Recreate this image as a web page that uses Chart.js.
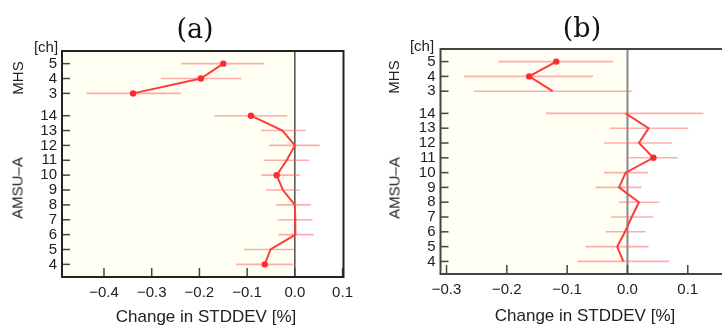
<!DOCTYPE html>
<html>
<head>
<meta charset="utf-8">
<script src="https://cdn.jsdelivr.net/npm/chart.js@4.4.1/dist/chart.umd.min.js"></script>
<style>
  body { margin: 0; width: 722px; height: 325px; overflow: hidden; position: relative; background: #fff;
         font-family: "Liberation Sans", Arial, sans-serif; color: #222; }
  canvas { position: absolute; top: 0; }
  .lbl { position: absolute; white-space: nowrap; transform: translate(-50%, -50%); }
  .ttl { font-family: "DejaVu Serif", serif; font-size: 27px; color: #111; }
  .ax { font-size: 17px; }
  .side { font-size: 15px; }
  .rot { transform: translate(-50%, -50%) rotate(-90deg); }
</style>
</head>
<body>
<canvas id="chartA" width="360" height="325" style="left:0"></canvas>
<canvas id="chartB" width="400" height="325" style="left:360px"></canvas>

<script>
// channel rows: AMSU-A 4..14 on the bottom, MHS 3..5 stacked above with a small gap
const amsuCh = [4, 5, 6, 7, 8, 9, 10, 11, 12, 13, 14];
const mhsCh = [3, 4, 5];
const amsuPos = [4, 5, 6, 7, 8, 9, 10, 11, 12, 13, 14];
const mhsPos = [15.5, 16.5, 17.5];
const yTickPos = amsuPos.concat(mhsPos);
const yTickLabels = amsuCh.concat(mhsCh).map(String);

const xTicksA = [-0.4, -0.3, -0.2, -0.1, 0.0, 0.1];
const xTicksB = [-0.3, -0.2, -0.1, 0.0, 0.1];

// (a) change in STDDEV, with error bar ends
const amsuA = [-0.063, -0.051, 0.001, 0.001, 0.0, -0.025, -0.038, -0.017, 0.0, -0.026, -0.092];
const amsuALo = [-0.123, -0.107, -0.034, -0.036, -0.039, -0.061, -0.070, -0.065, -0.054, -0.071, -0.169];
const amsuAHi = [-0.004, -0.002, 0.040, 0.037, 0.034, 0.010, 0.010, 0.030, 0.052, 0.023, -0.016];
const amsuADot = [1, 0, 0, 0, 0, 0, 1, 0, 0, 0, 1];
const mhsA = [-0.339, -0.197, -0.150];
const mhsALo = [-0.437, -0.281, -0.238];
const mhsAHi = [-0.239, -0.112, -0.064];
const mhsADot = [1, 1, 1];

// (b)
const amsuB = [-0.007, -0.017, -0.004, 0.007, 0.019, -0.014, -0.003, 0.043, 0.019, 0.035, -0.003];
const amsuBLo = [-0.083, -0.069, -0.036, -0.027, -0.014, -0.053, -0.039, 0.002, -0.039, -0.029, -0.135];
const amsuBHi = [0.069, 0.035, 0.030, 0.043, 0.053, 0.023, 0.034, 0.083, 0.074, 0.101, 0.126];
const amsuBDot = [0, 0, 0, 0, 0, 0, 0, 1, 0, 0, 0];
const mhsB = [-0.124, -0.163, -0.118];
const mhsBLo = [-0.255, -0.271, -0.214];
const mhsBHi = [0.008, -0.057, -0.024];
const mhsBDot = [0, 1, 1];


function fmtX(v) {
    let s = Math.abs(v).toFixed(1);
    return v < -1e-9 ? "\u2212" + s : s;
}

// background, zero line, error bars, box and inward ticks
const panelDeco = {
    id: "panelDeco",
    beforeDatasetsDraw(chart, args, opts) {
        const ctx = chart.ctx;
        const a = chart.chartArea;
        const x = chart.scales.x, y = chart.scales.y;
        const x0 = x.getPixelForValue(0);
        ctx.save();
        ctx.fillStyle = "#fffff3";
        ctx.fillRect(a.left, a.top, x0 - a.left, a.bottom - a.top);

        ctx.strokeStyle = opts.zeroColor;
        ctx.lineWidth = opts.zeroWidth;
        ctx.beginPath();
        ctx.moveTo(x0, a.top);
        ctx.lineTo(x0, a.bottom);
        ctx.stroke();

        ctx.strokeStyle = "rgba(255,105,105,0.55)";
        ctx.lineWidth = 1.6;
        chart.data.datasets.forEach(ds => {
            ds.data.forEach((p, i) => {
                const py = y.getPixelForValue(p.y);
                ctx.beginPath();
                ctx.moveTo(x.getPixelForValue(ds.lo[i]), py);
                ctx.lineTo(x.getPixelForValue(ds.hi[i]), py);
                ctx.stroke();
            });
        });
        ctx.restore();
    },
    afterDraw(chart, args, opts) {
        const ctx = chart.ctx;
        const a = chart.chartArea;
        const x = chart.scales.x, y = chart.scales.y;
        ctx.save();
        ctx.strokeStyle = opts.tickColor;
        ctx.lineWidth = 1.5;
        y.ticks.forEach(t => {
            const py = y.getPixelForValue(t.value);
            ctx.beginPath();
            ctx.moveTo(a.left, py);
            ctx.lineTo(a.left + 8, py);
            ctx.stroke();
        });
        x.ticks.forEach(t => {
            const px = x.getPixelForValue(t.value);
            ctx.beginPath();
            ctx.moveTo(px, a.bottom);
            ctx.lineTo(px, a.bottom - 9);
            ctx.stroke();
        });
        ctx.strokeStyle = opts.boxColor;
        ctx.lineWidth = 2;
        ctx.strokeRect(a.left, a.top, a.right - a.left, a.bottom - a.top);
        ctx.restore();
    }
};

function series(vals, lo, hi, dots, pos) {
    return {
        data: vals.map((v, i) => ({ x: v, y: pos[i] })),
        lo: lo,
        hi: hi,
        showLine: true,
        borderColor: "#ff3b3b",
        borderWidth: 2,
        pointRadius: dots.map(d => d ? 3.2 : 0),
        pointBackgroundColor: "#ff2b2b",
        pointBorderWidth: 0,
        pointHoverRadius: 0
    };
}

function makePanel(id, p) {
    new Chart(document.getElementById(id), {
        type: "scatter",
        data: {
            datasets: [
                series(p.amsu, p.amsuLo, p.amsuHi, p.amsuDot, amsuPos),
                series(p.mhs, p.mhsLo, p.mhsHi, p.mhsDot, mhsPos)
            ]
        },
        options: {
            responsive: false,
            animation: false,
            layout: { padding: { top: p.top, right: p.right, left: 0, bottom: 0 } },
            plugins: {
                legend: { display: false },
                tooltip: { enabled: false },
                panelDeco: { zeroColor: p.zeroColor, zeroWidth: p.zeroWidth, tickColor: "#444", boxColor: p.boxColor }
            },
            scales: {
                x: {
                    type: "linear",
                    min: p.xmin,
                    max: p.xmax,
                    afterBuildTicks: s => { s.ticks = p.xTicks.map(v => ({ value: v })); },
                    afterFit: s => { s.height = p.xh; },
                    grid: { display: false, drawTicks: false },
                    border: { display: false },
                    ticks: { callback: v => fmtX(v), padding: 7, color: "#222", maxRotation: 0, autoSkip: false,
                             font: { family: "'Liberation Sans', Arial, sans-serif", size: 15 } }
                },
                y: {
                    type: "linear",
                    min: 3.15,
                    max: 18.35,
                    afterBuildTicks: s => { s.ticks = yTickPos.map(v => ({ value: v })); },
                    afterFit: s => { s.width = p.yw; },
                    grid: { display: false, drawTicks: false },
                    border: { display: false },
                    ticks: { callback: (v, i) => yTickLabels[i], padding: 5, color: "#222", autoSkip: false,
                             font: { family: "'Liberation Sans', Arial, sans-serif", size: 15 } }
                }
            }
        },
        plugins: [panelDeco]
    });
}

function label(text, x, y, cls) {
    const d = document.createElement("div");
    d.className = "lbl " + cls;
    d.textContent = text;
    d.style.left = x + "px";
    d.style.top = y + "px";
    document.body.appendChild(d);
}

makePanel("chartA", {
    amsu: amsuA, amsuLo: amsuALo, amsuHi: amsuAHi, amsuDot: amsuADot,
    mhs: mhsA, mhsLo: mhsALo, mhsHi: mhsAHi, mhsDot: mhsADot,
    xmin: -0.488, xmax: 0.102, xTicks: xTicksA,
    top: 51, right: 9, yw: 62, xh: 48,
    zeroColor: "#333", zeroWidth: 1.3, boxColor: "#222"
});

makePanel("chartB", {
    amsu: amsuB, amsuLo: amsuBLo, amsuHi: amsuBHi, amsuDot: amsuBDot,
    mhs: mhsB, mhsLo: mhsBLo, mhsHi: mhsBHi, mhsDot: mhsBDot,
    xmin: -0.31, xmax: 0.17, xTicks: xTicksB,
    top: 49, right: 30, yw: 80.5, xh: 51,
    zeroColor: "#888", zeroWidth: 2, boxColor: "#444"
});

// titles and axis labels
label("(a)", 195, 28, "ttl");
label("(b)", 582, 27, "ttl");
label("[ch]", 46, 46, "side");
label("[ch]", 422, 45, "side");
label("MHS", 17, 78, "side rot");
label("MHS", 393, 77, "side rot");
label("AMSU\u2013A", 17, 188, "side rot");
label("AMSU\u2013A", 394, 188, "side rot");
label("Change in STDDEV [%]", 206, 317, "ax");
label("Change in STDDEV [%]", 585, 316, "ax");
</script>
</body>
</html>
